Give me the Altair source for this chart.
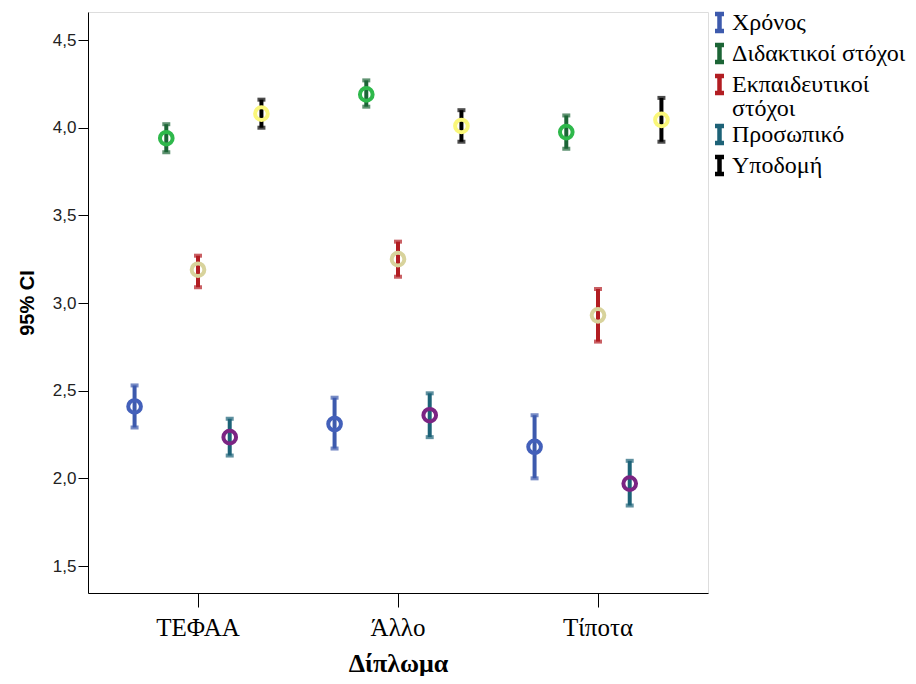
import altair as alt
import pandas as pd

categories = ["ΤΕΦΑΑ", "Άλλο", "Τίποτα"]
series = ["Χρόνος", "Διδακτικοί στόχοι", "Εκπαιδευτικοί στόχοι", "Προσωπικό", "Υποδομή"]

# mean, lower and upper 95% CI per series, in category order
means = {
    "Χρόνος": [2.41, 2.31, 2.18],
    "Διδακτικοί στόχοι": [3.94, 4.19, 3.975],
    "Εκπαιδευτικοί στόχοι": [3.19, 3.25, 2.93],
    "Προσωπικό": [2.235, 2.36, 1.97],
    "Υποδομή": [4.08, 4.01, 4.045],
}
lower = {
    "Χρόνος": [2.29, 2.17, 2.00],
    "Διδακτικοί στόχοι": [3.86, 4.12, 3.88],
    "Εκπαιδευτικοί στόχοι": [3.09, 3.15, 2.78],
    "Προσωπικό": [2.13, 2.235, 1.845],
    "Υποδομή": [4.00, 3.92, 3.92],
}
upper = {
    "Χρόνος": [2.53, 2.46, 2.36],
    "Διδακτικοί στόχοι": [4.02, 4.27, 4.07],
    "Εκπαιδευτικοί στόχοι": [3.27, 3.35, 3.08],
    "Προσωπικό": [2.34, 2.485, 2.10],
    "Υποδομή": [4.16, 4.10, 4.17],
}

bar_colors = ["#3d5aad", "#1c6536", "#b21d22", "#1d6277", "#000000"]
circle_colors = ["#4360ba", "#2eb84b", "#d8d39c", "#7b2483", "#faf77a"]

rows = []
for s in series:
    for i, c in enumerate(categories):
        rows.append({"cat": c, "series": s, "mean": means[s][i],
                     "lo": lower[s][i], "hi": upper[s][i]})
df = pd.DataFrame(rows)

serif = "Liberation Serif"
sans = "Liberation Sans"

x = alt.X("cat:N", sort=categories,
          scale=alt.Scale(paddingInner=0, paddingOuter=0.05),
          axis=alt.Axis(title="Δίπλωμα", labelAngle=0, labelFont=serif,
                        labelFontSize=25, labelColor="black",
                        titleFont=serif, titleFontSize=26, titleFontWeight="bold",
                        titleColor="black", tickSize=14, tickColor="black",
                        domainColor="black", labelPadding=8, titlePadding=10))
xo = alt.XOffset("series:N", sort=series,
                 scale=alt.Scale(paddingInner=0, paddingOuter=0.653))
yscale = alt.Scale(domain=[1.346, 4.66], nice=False, zero=False)
yaxis = alt.Axis(title="95% CI", values=[1.5, 2.0, 2.5, 3.0, 3.5, 4.0, 4.5],
                 labelExpr="replace(format(datum.value, '.1f'), '.', ',')",
                 labelFont=sans, labelFontSize=17, labelColor="#222222",
                 titleFont=sans, titleFontSize=20, titleFontWeight="bold",
                 titleColor="black", tickSize=10, tickColor="black",
                 domainColor="black", labelPadding=2, titlePadding=15, grid=False)

ibeam = "M-0.45,-0.85H0.45M0,-0.85V0.85M-0.45,0.85H0.45"

legend = alt.Legend(title=None, orient="none", legendX=619, legendY=-2,
                    symbolType=ibeam, symbolSize=400, symbolStrokeWidth=4.5,
                    symbolOpacity=1,
                    labelFont=serif, labelFontSize=24, labelColor="black",
                    labelLimit=300, labelOffset=0, rowPadding=-4, padding=0,
                    labelExpr="datum.label == 'Εκπαιδευτικοί στόχοι' ? ['Εκπαιδευτικοί', 'στόχοι'] : datum.label")

color = alt.Color("series:N", sort=series,
                  scale=alt.Scale(domain=series, range=bar_colors), legend=legend)

rules = alt.Chart(df).mark_rule(strokeWidth=4).encode(
    x=x, xOffset=xo, y=alt.Y("lo:Q", scale=yscale, axis=yaxis), y2="hi:Q", color=color)

caps_lo = alt.Chart(df).mark_tick(orient="horizontal", size=8, thickness=4).encode(
    x=x, xOffset=xo, y=alt.Y("lo:Q", scale=yscale), color=color)
caps_hi = alt.Chart(df).mark_tick(orient="horizontal", size=8, thickness=4).encode(
    x=x, xOffset=xo, y=alt.Y("hi:Q", scale=yscale), color=color)

circles = alt.Chart(df).mark_point(shape="circle", filled=False, size=160,
                                   strokeWidth=4, opacity=1).encode(
    x=x, xOffset=xo, y=alt.Y("mean:Q", scale=yscale),
    stroke=alt.Stroke("series:N", sort=series,
                      scale=alt.Scale(domain=series, range=circle_colors), legend=None))

chart = alt.layer(rules, circles, caps_lo, caps_hi).properties(
    width=620, height=581,
    autosize=alt.AutoSizeParams(type="none"),
    padding={"left": 80, "top": 4, "right": 200, "bottom": 83},
).configure_view(fill="#f0f0f0", stroke="black", strokeWidth=1.2
).configure(background="white", style={"guide-label": {"lineHeight": 24}})

chart.save("out.html", embed_options={"renderer": "svg", "actions": False})
